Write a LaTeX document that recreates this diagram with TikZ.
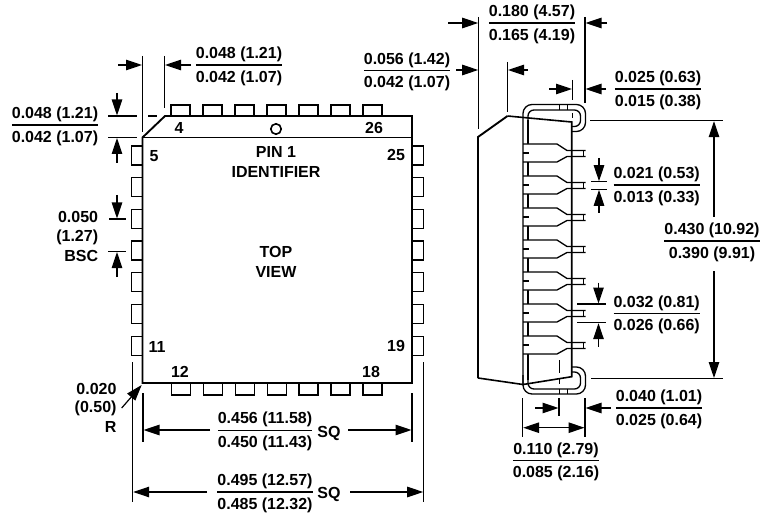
\documentclass[tikz,border=0pt]{standalone}
\usepackage{fontspec}
\usepackage{array}
\setmainfont{Liberation Sans}
\usetikzlibrary{arrows.meta}
\setlength{\tabcolsep}{0pt}
\setlength{\arrayrulewidth}{1.3pt}
\setlength{\extrarowheight}{2.5pt}
\newcommand{\dimfrac}[2]{\begin{tabular}{c}#1\\\hline #2\end{tabular}}
\tikzset{
  dimline/.style={line width=1.2pt},
  dimtip/.style={Triangle[length=16pt,width=10.5pt]},
  dimarrow/.style={dimline,-{Triangle[length=16pt,width=10.5pt]}},
  outline/.style={line width=1.9pt,line join=miter},
  thinline/.style={line width=1.3pt},
  pinbox/.style={line width=1.3pt,fill=white},
  txt/.style={font=\fontsize{16}{20}\selectfont\bfseries,inner sep=0pt,align=center}
}
\begin{document}
\begin{tikzpicture}[x=1pt,y=-1pt]
  \useasboundingbox (0,0) rectangle (761,516);
  % Pins of the top view
  \foreach \i in {0,...,6} {
    \draw[pinbox] (171+32*\i,116) rectangle (190+32*\i,105);
    \draw[pinbox] (171.5+31.9*\i,383) rectangle (190.5+31.9*\i,395);
    \draw[pinbox] (142.5,146+31.7*\i) rectangle (131.5,165+31.7*\i);
    \draw[pinbox] (412,146+31.7*\i) rectangle (423.5,165+31.7*\i);
  }
  % Body of the top view
  \draw[outline] (142.5,137.5) -- (165,116) -- (412,116) -- (412,383) -- (142.5,383) -- cycle;
  \draw[outline] (142.5,137.5) -- (412,137.5);
  \draw[line width=1.6pt] (276,129) circle (5.2);
  \node[txt] (pinA) at (179,128) {4};
  \node[txt] (pinB) at (374,128) {26};
  \node[txt] (pinC) at (154,156) {5};
  \node[txt] (pinD) at (396,155) {25};
  \node[txt] (pinE) at (157,347) {11};
  \node[txt] (pinF) at (396,346) {19};
  \node[txt] (pinG) at (180,372) {12};
  \node[txt] (pinH) at (371,372) {18};
  \node[txt] (ident) at (276,162) {PIN 1\\[-0.5pt]IDENTIFIER};
  \node[txt] (view) at (276,262) {TOP\\[-0.5pt]VIEW};
  % Corner dimensions
  \draw[dimline] (142.3,56) -- (142.3,132);
  \draw[dimline] (164.5,56) -- (164.5,108);
  \draw[dimarrow] (118,65) -- (142,65);
  \draw[dimarrow] (191,65) -- (165,65);
  \node[txt] (chamferA) at (239,65) {\dimfrac{0.048 (1.21)}{0.042 (1.07)}};
  \draw[dimline] (108,116) -- (137,116) (148,116) -- (157,116);
  \draw[dimline] (108,137.5) -- (137,137.5);
  \draw[dimarrow] (117,93) -- (117,115.5);
  \draw[dimarrow] (117,163) -- (117,138);
  \node[txt] (chamferB) at (55,125) {\dimfrac{0.048 (1.21)}{0.042 (1.07)}};
  % Pitch
  \draw[dimline] (109,219) -- (126,219) (108,251.7) -- (126,251.7);
  \draw[dimarrow] (117,195) -- (117,218.5);
  \draw[dimarrow] (117,277) -- (117,252);
  \node[txt,anchor=east] (pitchA) at (98.3,217) {0.050};
  \node[txt,anchor=east] (pitchB) at (98.3,237) {(1.27)};
  \node[txt,anchor=east] (pitchC) at (98.3,256) {BSC};
  % Radius
  \node[txt,anchor=east] (radA) at (116.7,389) {0.020};
  \node[txt,anchor=east] (radB) at (116.7,408) {(0.50)};
  \node[txt,anchor=east] (radC) at (116.7,427) {R};
  \draw[dimarrow] (121.7,408) -- (141.7,385);
  % Square dimensions
  \draw[dimline] (143,393) -- (143,442);
  \draw[dimline] (412,393) -- (412,442);
  \draw[dimline] (132.7,362) -- (132.7,502);
  \draw[dimline] (423.7,362) -- (423.7,502);
  \draw[dimarrow] (210,430) -- (143.5,430);
  \draw[dimarrow] (348,430) -- (411.5,430);
  \draw[dimarrow] (207,492) -- (133.2,492);
  \draw[dimarrow] (350,492) -- (423.2,492);
  \node[txt] (sqA) at (265,430.3) {\dimfrac{0.456 (11.58)}{0.450 (11.43)}};
  \node[txt] (sqB) at (265,492) {\dimfrac{0.495 (12.57)}{0.485 (12.32)}};
  \node[txt] (sqC) at (329,433) {SQ};
  \node[txt] (sqD) at (329,494) {SQ};
  % Side view: inner wall and leads
  \draw[thinline] (528,120) -- (528,380);
  \foreach \y in {144,176,...,336} {
    \fill[white] (523,\y) -- (557,\y) -- (567,\y+6.5) -- (585,\y+6.5) -- (585,\y+12.5) -- (567,\y+12.5) -- (557,\y+18) -- (523,\y+18) -- cycle;
    \draw[thinline] (585.5,\y+6.5) -- (567,\y+6.5) -- (557,\y) -- (523,\y) (523,\y+18) -- (557,\y+18) -- (567,\y+12.5) -- (585.5,\y+12.5);
    \draw[thinline] (523,\y+9) -- (529,\y+9);
    \draw[line width=0.8pt] (583.5,\y+6.5) -- (583.5,\y+12.5);
  }
  % Side view: J bends
  \draw[thinline,rounded corners=9] (523,385) -- (523,104.5) -- (585.5,104.5) -- (585.5,131.5) -- (572,131.5);
  \draw[thinline,rounded corners=6] (528,125) -- (528,110) -- (580.5,110) -- (580.5,126.5) -- (572,126.5);
  \draw[thinline,rounded corners=9] (523,375) -- (523,394) -- (585.5,394) -- (585.5,367) -- (572,367);
  \draw[thinline,rounded corners=6] (528,375) -- (528,389) -- (580.5,389) -- (580.5,372) -- (572,372);
  \draw[line width=0.8pt] (559.3,104.5) -- (559.3,110) (567.3,104.5) -- (567.3,110);
  \draw[line width=0.8pt] (559.3,389) -- (559.3,394) (567.3,389) -- (567.3,394);
  \draw[line width=0.8pt] (572.3,113) -- (572.3,118);
  \draw[line width=0.8pt] (559,360) -- (559,373) (559,379) -- (559,384);
  % Side view: body
  \draw[outline] (478,378) -- (478,137) -- (507.5,116);
  \draw[line width=1.6pt] (507.5,116) -- (571.7,122) -- (571.7,376.7) -- (523,384.5) -- (478,378);
  % Side view: top dimensions
  \draw[dimline] (478.7,17) -- (478.7,129);
  \draw[dimline] (585,17) -- (585,103);
  \draw[dimarrow] (448,23) -- (478.2,23);
  \draw[dimarrow] (607,23) -- (585.5,23);
  \node[txt] (heightA) at (532,23) {\dimfrac{0.180 (4.57)}{0.165 (4.19)}};
  \draw[dimline] (507.5,62) -- (507.5,112);
  \draw[dimarrow] (456,70) -- (478.2,70);
  \draw[dimarrow] (528,70) -- (508,70);
  \node[txt] (heightB) at (407,70.7) {\dimfrac{0.056 (1.42)}{0.042 (1.07)}};
  \draw[dimline] (572.5,80) -- (572.5,100);
  \draw[dimarrow] (549,89) -- (572,89);
  \draw[dimarrow] (606,89) -- (585.5,89);
  \node[txt] (leadA) at (658,89) {\dimfrac{0.025 (0.63)}{0.015 (0.38)}};
  % Side view: overall size
  \draw[dimline] (590,120.7) -- (723,120.7);
  \draw[dimline] (591,378.5) -- (723,378.5);
  \draw[dimarrow] (714,217) -- (714,121.2);
  \draw[dimarrow] (714,271) -- (714,378);
  \node[txt] (sizeA) at (712,241) {\dimfrac{0.430 (10.92)}{0.390 (9.91)}};
  % Side view: lead widths
  \draw[dimline] (591,181.7) -- (607,181.7) (591,189.3) -- (607,189.3);
  \draw[dimarrow] (599,158) -- (599,181.2);
  \draw[dimarrow] (599,213) -- (599,189.8);
  \node[txt] (leadB) at (656.7,185) {\dimfrac{0.021 (0.53)}{0.013 (0.33)}};
  \draw[dimline] (577,304) -- (606,304) (577,322.7) -- (606,322.7);
  \draw[dimarrow] (598.5,282.7) -- (598.5,303.5);
  \draw[dimarrow] (598.5,346.7) -- (598.5,323.2);
  \node[txt] (leadC) at (656.7,313.7) {\dimfrac{0.032 (0.81)}{0.026 (0.66)}};
  % Side view: bottom dimensions
  \draw[dimline] (522.7,398) -- (522.7,437);
  \draw[dimline] (585,398) -- (585,437);
  \draw[dimline] (559,398) -- (559,416);
  \draw[dimarrow] (535,408) -- (558.5,408);
  \draw[dimarrow] (611,408) -- (585.5,408);
  \node[txt] (bendA) at (659,408) {\dimfrac{0.040 (1.01)}{0.025 (0.64)}};
  \draw[dimline,{Triangle[length=16pt,width=10.5pt]}-{Triangle[length=16pt,width=10.5pt]}] (523.2,427.7) -- (584.5,427.7);
  \node[txt] (bendB) at (556,460.7) {\dimfrac{0.110 (2.79)}{0.085 (2.16)}};
\end{tikzpicture}
\end{document}
